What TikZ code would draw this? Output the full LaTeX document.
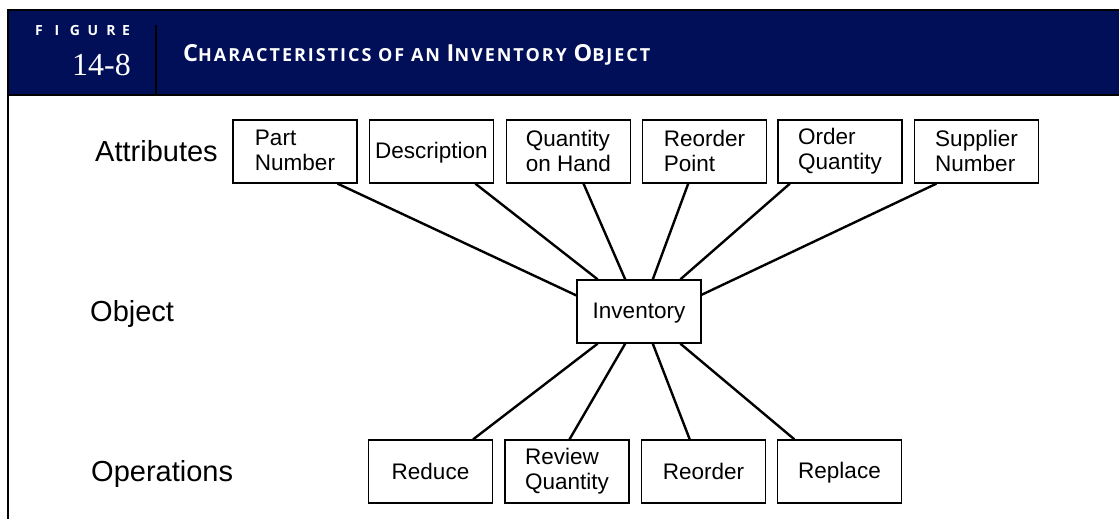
\documentclass[tikz,border=0pt]{standalone}
\usepackage{fontspec}
\setmainfont{Liberation Sans}
\newfontfamily\titlefont[LetterSpace=11]{Open Sans}
\newfontfamily\figfont{Open Sans}
\newfontfamily\numfont{Liberation Serif}
\usetikzlibrary{calc}
\definecolor{navy}{RGB}{0,15,88}
\newcommand\capBig[1]{{\fontsize{23.5}{23}\selectfont #1}}
\newcommand\capSm[1]{{\fontsize{18}{18}\selectfont #1}}
\tikzset{
  box/.style={draw, line width=1.3pt, minimum width=124pt, minimum height=63pt,
    inner sep=0pt, align=left, font=\fontsize{22.5}{25}\selectfont,
    execute at begin node={\rule{0pt}{18pt}},
    execute at end node={\rule[-2pt]{0pt}{2pt}}},
  link/.style={line width=2.4pt},
  lbl/.style={anchor=base west, inner sep=0pt, font=\fontsize{29}{30}\selectfont},
  figletter/.style={anchor=base, inner sep=0pt, text=white, font=\figfont\bfseries\fontsize{14}{14}\selectfont},
  rule/.style={line width=2pt}
}
\begin{document}
\begin{tikzpicture}[x=1pt,y=-1pt]
\useasboundingbox (0,0) rectangle (1119,519);
\fill[white] (0,0) rectangle (1119,519);
% header
\fill[navy] (8,10) rectangle (1119,95);
\draw[line width=1.5pt] (7,10) -- (1119,10);
\draw[rule] (8,94.5) -- (1119,94.5);
\draw[line width=2.5pt] (8,9.5) -- (8,519);
\draw[rule] (156,25) -- (156,94.5);
\foreach \l/\x in {F/39,I/57,G/75,U/93,R/111,E/126}
  \node[figletter] (fig\l) at (\x,36) {\l};
\node[anchor=base east, inner sep=0pt, text=white, font=\numfont\fontsize{32}{32}\selectfont] (num) at (131,75) {14-8};
\node[anchor=base west, inner sep=0pt, text=white, font=\titlefont\bfseries\fontsize{18}{18}\selectfont] (title) at (183,62)
  {\capBig{C}\capSm{HARACTERISTICS OF AN} \capBig{I}\capSm{NVENTORY} \capBig{O}\capSm{BJECT}};
% row labels
\node[lbl] (lattr) at (95,161.5) {Attributes};
\node[lbl] (lobj) at (90,321) {Object};
\node[lbl] (lops) at (91,481) {Operations};
% attribute boxes
\node[box] (pn) at (295,151.5) {Part\\Number};
\node[box] (de) at (431.5,151.5) {Description};
\node[box] (qh) at (568.5,151.5) {Quantity\\on Hand};
\node[box] (rp) at (704.5,151.5) {Reorder\\Point};
\node[box] (oq) at (840,151.5) {Order\\Quantity};
\node[box] (sn) at (976.5,151.5) {Supplier\\Number};
% object
\node[box] (inv) at (639,311.5) {Inventory};
% operations
\node[box] (rd) at (430.5,471.5) {Reduce};
\node[box] (rq) at (567,471.5) {Review\\Quantity};
\node[box] (ro) at (703.5,471.5) {Reorder};
\node[box] (rl) at (839.5,471.5) {Replace};
% connectors
\draw[link] ($(pn.south west)!0.84!(pn.south east)$) -- ($(inv.north west)!0.25!(inv.south west)$);
\draw[link] ($(de.south west)!0.85!(de.south east)$) -- ($(inv.north west)!0.17!(inv.north east)$);
\draw[link] ($(qh.south west)!0.62!(qh.south east)$) -- ($(inv.north west)!0.39!(inv.north east)$);
\draw[link] ($(rp.south west)!0.37!(rp.south east)$) -- ($(inv.north west)!0.61!(inv.north east)$);
\draw[link] ($(oq.south west)!0.10!(oq.south east)$) -- ($(inv.north west)!0.83!(inv.north east)$);
\draw[link] ($(sn.south west)!0.18!(sn.south east)$) -- ($(inv.north east)!0.24!(inv.south east)$);
\draw[link] ($(inv.south west)!0.17!(inv.south east)$) -- ($(rd.north west)!0.84!(rd.north east)$);
\draw[link] ($(inv.south west)!0.39!(inv.south east)$) -- ($(rq.north west)!0.52!(rq.north east)$);
\draw[link] ($(inv.south west)!0.61!(inv.south east)$) -- ($(ro.north west)!0.39!(ro.north east)$);
\draw[link] ($(inv.south west)!0.83!(inv.south east)$) -- ($(rl.north west)!0.14!(rl.north east)$);
\end{tikzpicture}
\end{document}
